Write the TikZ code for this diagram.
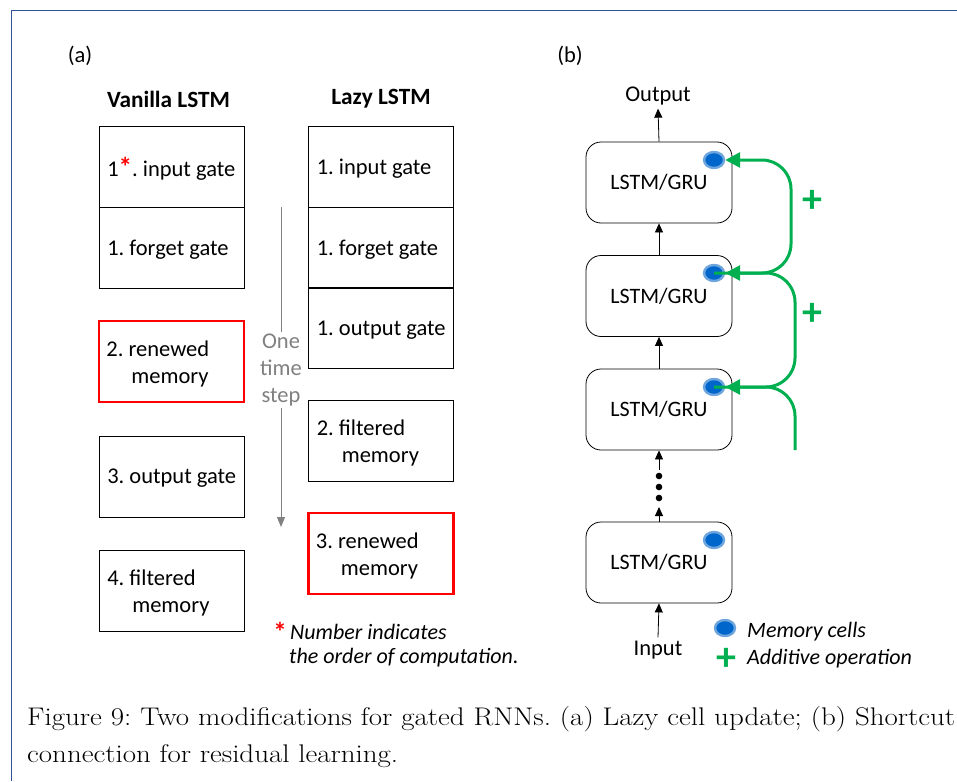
\documentclass[tikz,border=0pt]{standalone}
\usepackage{fontspec}
\newfontfamily\calfont{Carlito}
\usetikzlibrary{arrows.meta,calc,shapes.geometric}
\definecolor{frameblue}{RGB}{47,85,151}
\definecolor{gbar}{RGB}{0,176,80}
\definecolor{memdark}{RGB}{0,102,204}
\definecolor{memlight}{RGB}{110,165,220}
\definecolor{stepgray}{RGB}{128,128,128}
\newcommand{\bigast}{\textcolor{red}{\bfseries\fontsize{27}{27}\selectfont *}}
\begin{document}
\frenchspacing
\begin{tikzpicture}[x=1pt,y=-1pt,
  every node/.style={font=\calfont\fontsize{22.5}{27}\selectfont},
  gatebox/.style={draw=black, line width=0.8pt, minimum width=145pt, minimum height=81pt, inner sep=0pt},
  redbox/.style={gatebox, draw=red, line width=2.6pt},
  gatetext/.style={anchor=west, inner sep=0pt, align=left, yshift=-2pt, font=\calfont\fontsize{22.5}{27}\selectfont},
  cellbox/.style={draw=black, line width=0.8pt, rounded corners=15pt, minimum width=146pt, minimum height=81pt, inner sep=0pt, font=\calfont\fontsize{22}{26}\selectfont},
  memcell/.style={ellipse, draw=memlight, line width=2.4pt, fill=memdark, minimum width=20pt, minimum height=16pt, inner sep=0pt},
  blk/.style={line width=0.8pt, -{Triangle[length=9pt,width=8pt]}},
  grn/.style={draw=gbar, line width=3pt, rounded corners=29pt, -{Triangle[length=15pt,width=15pt]}},
  note/.style={font=\calfont\itshape\fontsize{22}{26}\selectfont, anchor=west, inner sep=0pt},
  plus/.style={text=gbar, inner sep=0pt, font=\calfont\bfseries\fontsize{40}{40}\selectfont},
  captext/.style={anchor=base west, inner sep=0pt, font=\fontsize{25.5}{37}\selectfont},
]
\useasboundingbox (0,0) rectangle (957,781);
% frame
\draw[frameblue, line width=1pt] (957,11) -- (11,11) -- (11,781);

% (a)
\node (la) at (80,56) {(a)};
\node (lb) at (570,56) {(b)};
\node[font=\calfont\bfseries\fontsize{23.3}{27}\selectfont] (vt) at (168.5,99) {Vanilla LSTM};
\node[font=\calfont\bfseries\fontsize{23.3}{27}\selectfont] (lt) at (381,99) {Lazy LSTM};

\node[gatebox] (v1) at (171.5,167) {};
\node[gatebox] (v2) at (171.5,248) {};
\node[redbox] (v3) at (171.5,361.5) {};
\node[gatebox] (v4) at (171.5,476.5) {};
\node[gatebox] (v5) at (171.5,590.5) {};
\node[gatetext] (v1t) at ([xshift=8.5pt]v1.west) {1\bigast. input gate};
\node[gatetext] (v2t) at ([xshift=8.5pt]v2.west) {1. forget gate};
\node[gatetext] (v3t) at ([xshift=8.5pt]v3.west) {2. renewed\\\hspace*{25pt}memory};
\node[gatetext] (v4t) at ([xshift=8.5pt]v4.west) {3. output gate};
\node[gatetext] (v5t) at ([xshift=8.5pt]v5.west) {4. filtered\\\hspace*{25pt}memory};

\node[gatebox] (z1) at (381,167) {};
\node[gatebox] (z2) at (381,248) {};
\node[gatebox] (z3) at (381,328) {};
\node[gatebox] (z4) at (381,440.5) {};
\node[redbox] (z5) at (381,553.5) {};
\node[gatetext] (z1t) at ([xshift=8.5pt]z1.west) {1. input gate};
\node[gatetext] (z2t) at ([xshift=8.5pt]z2.west) {1. forget gate};
\node[gatetext] (z3t) at ([xshift=8.5pt]z3.west) {1. output gate};
\node[gatetext] (z4t) at ([xshift=8.5pt]z4.west) {2. filtered\\\hspace*{25pt}memory};
\node[gatetext] (z5t) at ([xshift=8.5pt]z5.west) {3. renewed\\\hspace*{25pt}memory};

% one time step
\node[text=stepgray, align=center, inner sep=2pt] (ts) at (281,370) {One\\time\\step};
\coordinate (tstop) at (281,207);
\coordinate (tsbot) at (281,527);
\draw[stepgray, line width=1pt] (tstop) -- (ts.north);
\draw[stepgray, line width=1pt, -{Triangle[length=10pt,width=8pt]}] (ts.south) -- (tsbot);

% footnote
\node[inner sep=0pt] (ast) at (280,632) {\bigast};
\node[note] (n1) at (290,632) {Number indicates};
\node[note] (n2) at (289,658) {the order of computation.};

% (b)
\node (out) at (658,96) {Output};
\node (inp) at (658,650) {Input};
\node[cellbox] (c1) at (659,182.5) {LSTM/GRU};
\node[cellbox] (c2) at (659,296) {LSTM/GRU};
\node[cellbox] (c3) at (659,409.5) {LSTM/GRU};
\node[cellbox] (c4) at (659,562.5) {LSTM/GRU};

\node[memcell] (m1) at (714,160) {};
\node[memcell] (m2) at (714,273) {};
\node[memcell] (m3) at (714,387) {};
\node[memcell] (m4) at (714,540) {};

\draw[blk] (c1.north) -- (out.south);
\draw[blk] (c2.north) -- (c1.south);
\draw[blk] (c3.north) -- (c2.south);
\coordinate (dtop) at (659,470);
\coordinate (dbot) at (659,507);
\draw[blk] (dtop) -- (c3.south);
\draw[blk] (c4.north) -- (dbot);
\fill (659,476) circle (3.3pt) (659,487) circle (3.3pt) (659,498) circle (3.3pt);
\draw[blk] (inp.north) -- (c4.south);

% green shortcut arrows
\draw[grn] (m2.center) -| (791,160) -- (m1.east);
\draw[grn] (m3.center) -| (795,273) -- (m2.east);
\coordinate (gfree) at (795,450);
\draw[grn] (gfree) |- (m3.east);
\node[plus] (p1) at (812.5,201) {+};
\node[plus] (p2) at (812.5,314) {+};

% legend
\node[memcell] (lm) at (725,628) {};
\node[note] (lmt) at (747,632) {Memory cells};
\node[plus] (lp) at (726,659) {+};
\node[note] (lpt) at (747,659) {Additive operation};

% caption
\node[captext] (cap1) at (27,725) {\scalebox{1.135}[1]{\hbox to 817.6pt{Figure 9: Two modifications for gated RNNs. (a) Lazy cell update; (b) Shortcut}}};
\node[captext] (cap2) at (27,762) {\scalebox{1.135}[1]{connection for residual learning.}};
\end{tikzpicture}
\end{document}
